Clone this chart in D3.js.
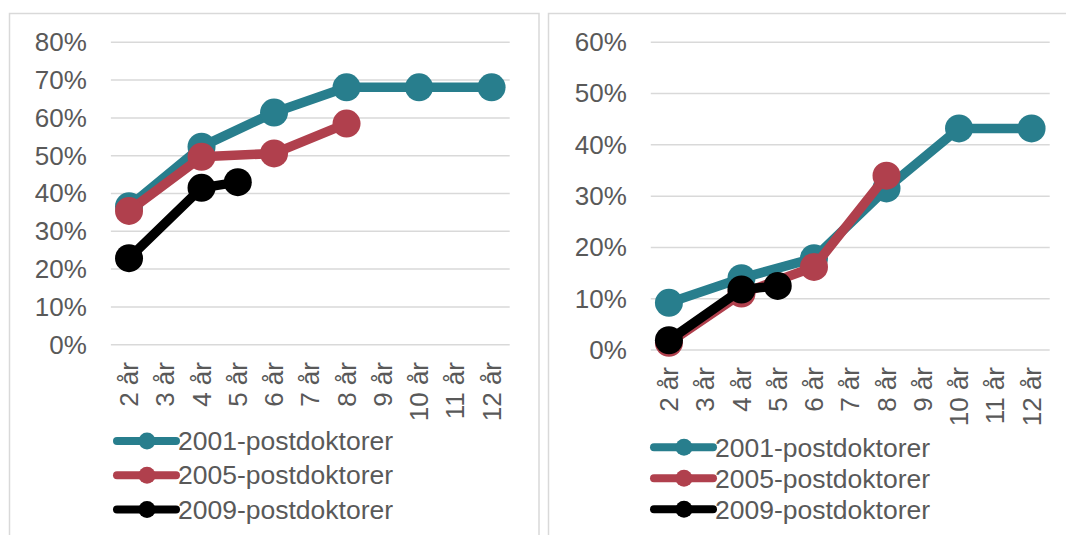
<!DOCTYPE html>
<html>
<head>
<meta charset="utf-8">
<script src="https://cdn.jsdelivr.net/npm/d3@7"></script>
<style>
body { margin: 0; background: #fff; }
svg { display: block; }
text { font-family: "Liberation Sans", Arial, sans-serif; fill: #595959; }
</style>
</head>
<body>
<svg width="1066" height="535"></svg>
<script>
// kategorier och serier
var categories = ["2 år", "3 år", "4 år", "5 år", "6 år", "7 år", "8 år", "9 år", "10 år", "11 år", "12 år"];
var seriesNames = ["2001-postdoktorer", "2005-postdoktorer", "2009-postdoktorer"];
var seriesColors = ["#287e8d", "#b0404d", "#000000"];

// vänster diagram (procent)
var left2001 = [36.6, null, 52.4, null, 61.4, null, 68.1, null, 68.1, null, 68.1];
var left2005 = [35.4, null, 49.7, null, 50.6, null, 58.5, null, null, null, null];
var left2009 = [22.9, null, 41.5, 43.0, null, null, null, null, null, null, null];
var leftTicks = [0, 10, 20, 30, 40, 50, 60, 70, 80];

// höger diagram (procent)
var right2001 = [9.2, null, 14.0, null, 17.9, null, 31.5, null, 43.2, null, 43.2];
var right2005 = [1.4, null, 11.0, null, 16.2, null, 34.0, null, null, null, null];
var right2009 = [1.9, null, 11.8, 12.5, null, null, null, null, null, null, null];
var rightTicks = [0, 10, 20, 30, 40, 50, 60];

var svg = d3.select("svg");

function drawChart(opt) {
	var g = svg.append("g");

	// ram
	g.append("rect")
		.attr("x", opt.frameX).attr("y", 13.5)
		.attr("width", opt.frameW).attr("height", 600)
		.attr("fill", "none").attr("stroke", "#d9d9d9").attr("stroke-width", 1.5);

	var x = d3.scaleBand().domain(categories).range([opt.x0, opt.x1]).padding(0);
	var y = d3.scaleLinear().domain([0, d3.max(opt.ticks)]).range([opt.yBottom, opt.yTop]);

	g.selectAll(".grid").data(opt.ticks).enter()
		.append("line").attr("class", "grid")
		.attr("x1", opt.x0).attr("x2", opt.x1)
		.attr("y1", function(d) { return y(d); }).attr("y2", function(d) { return y(d); })
		.attr("stroke", "#d9d9d9").attr("stroke-width", 1.5);

	var yAxis = g.append("g")
		.attr("transform", "translate(" + opt.x0 + ",0)")
		.call(d3.axisLeft(y).tickValues(opt.ticks).tickSize(0).tickPadding(24)
			.tickFormat(function(d) { return d + "%"; }));
	yAxis.select(".domain").remove();
	yAxis.selectAll("text").attr("font-size", 26).attr("fill", "#595959")
		.attr("font-family", "Liberation Sans, Arial, sans-serif");

	// x-etiketter, roterade
	g.selectAll(".xlab").data(categories).enter()
		.append("text").attr("class", "xlab")
		.attr("transform", function(d) {
			return "translate(" + (x(d) + x.bandwidth() / 2) + "," + opt.labelY + ") rotate(-90)";
		})
		.attr("text-anchor", "end").attr("dy", "0.35em")
		.attr("font-size", 26)
		.text(function(d) { return d; });

	var line = d3.line()
		.x(function(d) { return x(d.cat) + x.bandwidth() / 2; })
		.y(function(d) { return y(d.v); });

	opt.series.forEach(function(vals, i) {
		var pts = [];
		vals.forEach(function(v, j) { if (v != null) pts.push({ cat: categories[j], v: v }); });
		g.append("path").datum(pts)
			.attr("d", line).attr("fill", "none")
			.attr("stroke", seriesColors[i]).attr("stroke-width", 9.5)
			.attr("stroke-linejoin", "round");
		g.selectAll(".pt" + i).data(pts).enter()
			.append("circle").attr("class", "pt" + i)
			.attr("cx", function(d) { return x(d.cat) + x.bandwidth() / 2; })
			.attr("cy", function(d) { return y(d.v); })
			.attr("r", 14)
			.attr("fill", seriesColors[i]);
	});

	// teckenförklaring
	var lg = g.append("g");
	seriesNames.forEach(function(name, i) {
		var ly = opt.legendY + i * opt.legendStep;
		lg.append("line")
			.attr("x1", opt.legendX).attr("x2", opt.legendX + 59)
			.attr("y1", ly).attr("y2", ly)
			.attr("stroke", seriesColors[i]).attr("stroke-width", 8)
			.attr("stroke-linecap", "round");
		lg.append("circle")
			.attr("cx", opt.legendX + 30).attr("cy", ly).attr("r", 8.5)
			.attr("fill", seriesColors[i]);
		lg.append("text")
			.attr("x", opt.legendX + 61).attr("y", ly).attr("dy", "0.35em")
			.attr("font-size", 26.5)
			.text(name);
	});
}

drawChart({
	frameX: 9.5, frameW: 529.5,
	x0: 110.9, x1: 509.7,
	yTop: 42.3, yBottom: 344.7,
	ticks: leftTicks,
	labelY: 362,
	series: [left2001, left2005, left2009],
	legendX: 117, legendY: 441, legendStep: 34.2
});

drawChart({
	frameX: 548.5, frameW: 600,
	x0: 650.8, x1: 1049.7,
	yTop: 42.3, yBottom: 350,
	ticks: rightTicks,
	labelY: 367,
	series: [right2001, right2005, right2009],
	legendX: 654, legendY: 447.3, legendStep: 31
});
</script>
</body>
</html>
